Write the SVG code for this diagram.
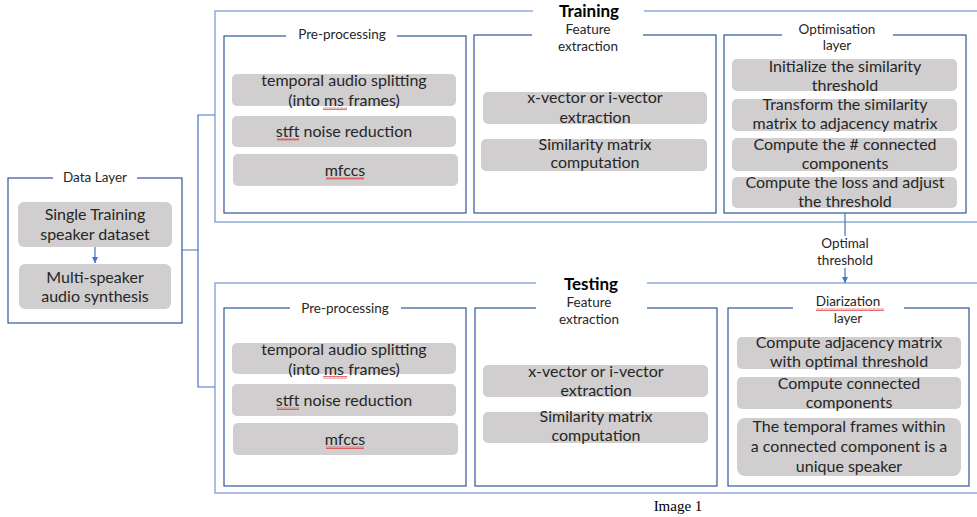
<svg xmlns="http://www.w3.org/2000/svg" width="977" height="517" viewBox="0 0 977 517">
<style>
  .outer{fill:none;stroke:#8FAADC;stroke-width:1.5}
  .panel{fill:#FFFFFF;stroke:#2F5597;stroke-width:1.2}
  .item{fill:#D0CECE}
  .gap{fill:#FFFFFF}
  .t{font-family:Lato,"Liberation Sans",sans-serif;font-size:16px;fill:#262626;text-anchor:middle}
  .lbl{font-family:Lato,"Liberation Sans",sans-serif;font-size:13.5px;fill:#262626;text-anchor:middle}
  .title{font-family:Lato,"Liberation Sans",sans-serif;font-size:17px;font-weight:bold;fill:#000000;text-anchor:middle}
  .cap{font-family:"Liberation Serif",serif;font-size:15px;fill:#000000;text-anchor:middle}
  .conn{fill:none;stroke:#4472C4;stroke-width:1.2}
  .sq{fill:url(#squig)}
</style>
<defs>
  <marker id="arr" viewBox="0 0 10 10" refX="10" refY="5" markerWidth="5" markerHeight="5" orient="auto">
    <path d="M0,0 L10,5 L0,10 z" fill="#4472C4"/>
  </marker>
  <pattern id="squig" width="4" height="3" patternUnits="userSpaceOnUse">
    <path d="M0,2.5 L1,0.5 L2,2.5 L3,0.5 L4,2.5" fill="none" stroke="#E03030" stroke-width="0.7"/>
  </pattern>
</defs>

<!-- Data Layer -->
<g id="data-layer">
  <rect x="8" y="178" width="174" height="145" fill="#FFFFFF" stroke="#2F5597" stroke-width="1.2"/>
  <rect class="gap" x="53" y="174" width="84" height="8"/>
  <text class="lbl" x="95" y="182">Data Layer</text>
  <g id="single-training">
    <rect class="item" x="18" y="202" width="154" height="45" rx="6"/>
    <text class="t" x="95" y="220">Single Training</text>
    <text class="t" x="95" y="240">speaker dataset</text>
  </g>
  <g id="multi-speaker">
    <rect class="item" x="19" y="264" width="152" height="45" rx="6"/>
    <text class="t" x="95" y="283">Multi-speaker</text>
    <text class="t" x="95" y="302">audio synthesis</text>
  </g>
</g>

<!-- Training -->
<g id="training">
  <rect class="outer" x="215" y="11" width="770" height="211"/>
  <rect class="gap" x="533" y="5" width="111" height="12"/>
  <text class="title" x="589" y="17">Training</text>

  <g id="train-preprocessing">
    <rect class="panel" x="224" y="36" width="242" height="177"/>
    <rect class="gap" x="286" y="30" width="111" height="10"/>
    <text class="lbl" x="342" y="39">Pre-processing</text>
    <rect class="item" x="232" y="74" width="224" height="32" rx="5"/>
    <text class="t" x="344" y="86">temporal audio splitting</text>
    <text class="t" x="344" y="106">(into ms frames)</text>
    <rect class="sq" x="323" y="107" width="24" height="3"/>
    <rect class="item" x="232" y="116" width="224" height="31" rx="5"/>
    <text class="t" x="344" y="137">stft noise reduction</text>
    <rect class="sq" x="277" y="138" width="22" height="3"/>
    <rect class="item" x="233" y="154" width="225" height="32" rx="5"/>
    <text class="t" x="345" y="176">mfccs</text>
    <rect class="sq" x="326" y="177" width="38" height="3"/>
  </g>

  <g id="train-feature">
    <rect class="panel" x="474" y="35" width="242" height="178"/>
    <rect class="gap" x="532" y="29" width="111" height="10"/>
    <text class="lbl" x="588" y="34">Feature</text>
    <text class="lbl" x="588" y="51">extraction</text>
    <rect class="item" x="483" y="92" width="224" height="32" rx="5"/>
    <text class="t" x="595" y="103">x-vector or i-vector</text>
    <text class="t" x="595" y="123">extraction</text>
    <rect class="item" x="481" y="139" width="226" height="32" rx="5"/>
    <text class="t" x="595" y="150">Similarity matrix</text>
    <text class="t" x="595" y="168">computation</text>
  </g>

  <g id="train-optimisation">
    <rect class="panel" x="724" y="35" width="242" height="178"/>
    <rect class="gap" x="782" y="29" width="111" height="10"/>
    <text class="lbl" x="837" y="34">Optimisation</text>
    <text class="lbl" x="837" y="50">layer</text>
    <rect class="item" x="732" y="59" width="225" height="32" rx="5"/>
    <text class="t" x="845" y="72">Initialize the similarity</text>
    <text class="t" x="845" y="91">threshold</text>
    <rect class="item" x="732" y="99" width="225" height="32" rx="5"/>
    <text class="t" x="845" y="110">Transform the similarity</text>
    <text class="t" x="845" y="129">matrix to adjacency matrix</text>
    <rect class="item" x="732" y="138" width="225" height="33" rx="5"/>
    <text class="t" x="845" y="150">Compute the # connected</text>
    <text class="t" x="845" y="169">components</text>
    <rect class="item" x="732" y="177" width="225" height="31" rx="5"/>
    <text class="t" x="845" y="188">Compute the loss and adjust</text>
    <text class="t" x="845" y="207">the threshold</text>
  </g>
</g>

<!-- Testing -->
<g id="testing">
  <rect class="outer" x="215" y="283" width="770" height="210"/>
  <rect class="gap" x="536" y="277" width="111" height="12"/>
  <text class="title" x="591" y="290">Testing</text>

  <g id="test-preprocessing">
    <rect class="panel" x="224" y="308" width="242" height="178"/>
    <rect class="gap" x="290" y="302" width="111" height="10"/>
    <text class="lbl" x="345" y="313">Pre-processing</text>
    <rect class="item" x="232" y="343" width="224" height="31" rx="5"/>
    <text class="t" x="344" y="355">temporal audio splitting</text>
    <text class="t" x="344" y="375">(into ms frames)</text>
    <rect class="sq" x="323" y="376" width="24" height="3"/>
    <rect class="item" x="232" y="384" width="224" height="32" rx="5"/>
    <text class="t" x="344" y="406">stft noise reduction</text>
    <rect class="sq" x="277" y="407" width="22" height="3"/>
    <rect class="item" x="233" y="423" width="225" height="32" rx="5"/>
    <text class="t" x="345" y="445">mfccs</text>
    <rect class="sq" x="326" y="446" width="38" height="3"/>
  </g>

  <g id="test-feature">
    <rect class="panel" x="475" y="308" width="242" height="178"/>
    <rect class="gap" x="536" y="302" width="111" height="10"/>
    <text class="lbl" x="589" y="307">Feature</text>
    <text class="lbl" x="589" y="324">extraction</text>
    <rect class="item" x="483" y="365" width="225" height="32" rx="5"/>
    <text class="t" x="596" y="377">x-vector or i-vector</text>
    <text class="t" x="596" y="396">extraction</text>
    <rect class="item" x="483" y="412" width="225" height="31" rx="5"/>
    <text class="t" x="596" y="422">Similarity matrix</text>
    <text class="t" x="596" y="441">computation</text>
  </g>

  <g id="test-diarization">
    <rect class="panel" x="728" y="308" width="241" height="178"/>
    <rect class="gap" x="793" y="302" width="111" height="10"/>
    <text class="lbl" x="848" y="306">Diarization</text>
    <rect class="sq" x="816" y="308" width="68" height="3"/>
    <text class="lbl" x="848" y="323">layer</text>
    <rect class="item" x="737" y="337" width="224" height="32" rx="5"/>
    <text class="t" x="849" y="348">Compute adjacency matrix</text>
    <text class="t" x="849" y="367">with optimal threshold</text>
    <rect class="item" x="737" y="377" width="224" height="32" rx="5"/>
    <text class="t" x="849" y="389">Compute connected</text>
    <text class="t" x="849" y="408">components</text>
    <rect class="item" x="737" y="418" width="224" height="58" rx="8"/>
    <text class="t" x="849" y="432">The temporal frames within</text>
    <text class="t" x="849" y="452">a connected component is a</text>
    <text class="t" x="849" y="472">unique speaker</text>
  </g>
</g>

<!-- Connectors -->
<g id="connectors">
  <path class="conn" d="M182,250 H198 M215,115 H198 V387 H215"/>
  <path class="conn" d="M95,247 V263" marker-end="url(#arr)"/>
  <path class="conn" d="M845,213 V283" marker-end="url(#arr)"/>
  <rect class="gap" x="810" y="236" width="70" height="32"/>
  <text class="lbl" x="845" y="248">Optimal</text>
  <text class="lbl" x="845" y="265">threshold</text>
</g>

<text class="cap" x="678" y="511">Image 1</text>
</svg>
